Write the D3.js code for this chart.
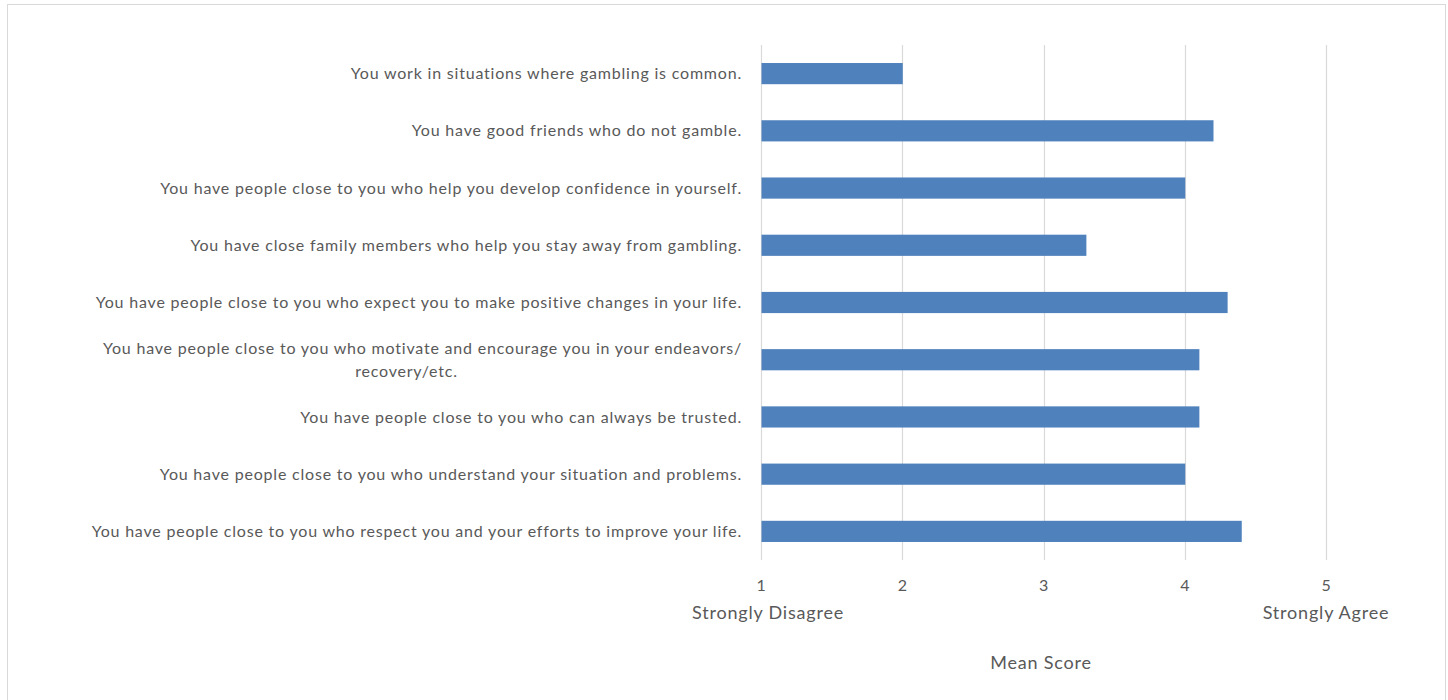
<!DOCTYPE html>
<html>
<head>
<meta charset="utf-8">
<script src="https://cdn.jsdelivr.net/npm/d3@7"></script>
<style>
  html, body { margin: 0; padding: 0; background: #fff; }
  svg { display: block; }
  text { font-family: Lato, "Open Sans", sans-serif; fill: #595959; }
</style>
</head>
<body>
<svg id="chart" width="1448" height="700"></svg>
<script>
const categories = [
  "You work in situations where gambling is common.",
  "You have good friends who do not gamble.",
  "You have people close to you who help you develop confidence in yourself.",
  "You have close family members who help you stay away from gambling.",
  "You have people close to you who expect you to make positive changes in your life.",
  "You have people close to you who motivate and encourage you in your endeavors/|recovery/etc.",
  "You have people close to you who can always be trusted.",
  "You have people close to you who understand your situation and problems.",
  "You have people close to you who respect you and your efforts to improve your life."
];
const meanScores = [2.0, 4.2, 4.0, 3.3, 4.3, 4.1, 4.1, 4.0, 4.4];
const tickValues = [1, 2, 3, 4, 5];
const endLabels = ["Strongly Disagree", "Strongly Agree"];
const axisTitle = "Mean Score";

const svg = d3.select("#chart");

// chart area border
svg.append("rect").attr("x", 7.5).attr("y", 4.5).attr("width", 1438).attr("height", 720)
  .attr("fill", "none").attr("stroke", "#d9d9d9").attr("stroke-width", 1);

const x = d3.scaleLinear().domain([1, 5]).range([761, 1326]);
const y = d3.scaleBand().domain(categories).range([45, 560]).paddingInner(0.63).paddingOuter(0.315);

// gridlines
svg.append("g").selectAll("line").data(tickValues).join("line")
  .attr("x1", d => Math.round(x(d)) + 0.5).attr("x2", d => Math.round(x(d)) + 0.5)
  .attr("y1", 45).attr("y2", 560)
  .attr("stroke", "#d9d9d9").attr("stroke-width", 1.2);

// bars
svg.append("g").selectAll("rect").data(categories).join("rect")
  .attr("x", x(1) + 0.5)
  .attr("y", d => y(d))
  .attr("width", (d, i) => x(meanScores[i]) - x(1))
  .attr("height", y.bandwidth())
  .attr("fill", "#4f81bd");

// category labels
const fs = 16;
const ls = 0.8;
const labG = svg.append("g");
categories.forEach(c => {
  const cy = y(c) + y.bandwidth() / 2;
  const lines = c.split("|");
  if (lines.length === 1) {
    labG.append("text").attr("x", 742).attr("y", cy).attr("dy", "0.35em")
      .attr("text-anchor", "end").attr("font-size", fs).attr("letter-spacing", ls).text(lines[0]);
  } else {
    const t1 = labG.append("text").attr("x", 742).attr("y", cy - 11.5).attr("dy", "0.35em")
      .attr("text-anchor", "end").attr("font-size", fs).attr("letter-spacing", ls).text(lines[0]);
    const w = t1.node().getComputedTextLength();
    labG.append("text").attr("x", 742 - w / 2 - 16).attr("y", cy + 11.5).attr("dy", "0.35em")
      .attr("text-anchor", "middle").attr("font-size", fs).attr("letter-spacing", ls).text(lines[1]);
  }
});

// x axis tick labels
const axis = d3.axisBottom(x).tickValues(tickValues).tickSize(0).tickPadding(0).tickFormat(d3.format("d"));
const ag = svg.append("g").attr("transform", "translate(0,580)").call(axis);
ag.select(".domain").remove();
ag.selectAll("text").attr("font-size", 16).attr("fill", "#595959")
  .style("font-family", "Lato, 'Open Sans', sans-serif").attr("letter-spacing", 0.5);

// end labels
svg.append("text").attr("x", 768).attr("y", 619).attr("text-anchor", "middle")
  .attr("font-size", 18).attr("letter-spacing", 0.8).text(endLabels[0]);
svg.append("text").attr("x", 1326).attr("y", 619).attr("text-anchor", "middle")
  .attr("font-size", 18).attr("letter-spacing", 0.8).text(endLabels[1]);

// axis title
svg.append("text").attr("x", 1041).attr("y", 669).attr("text-anchor", "middle")
  .attr("font-size", 18).attr("letter-spacing", 0.8).text(axisTitle);
</script>
</body>
</html>
